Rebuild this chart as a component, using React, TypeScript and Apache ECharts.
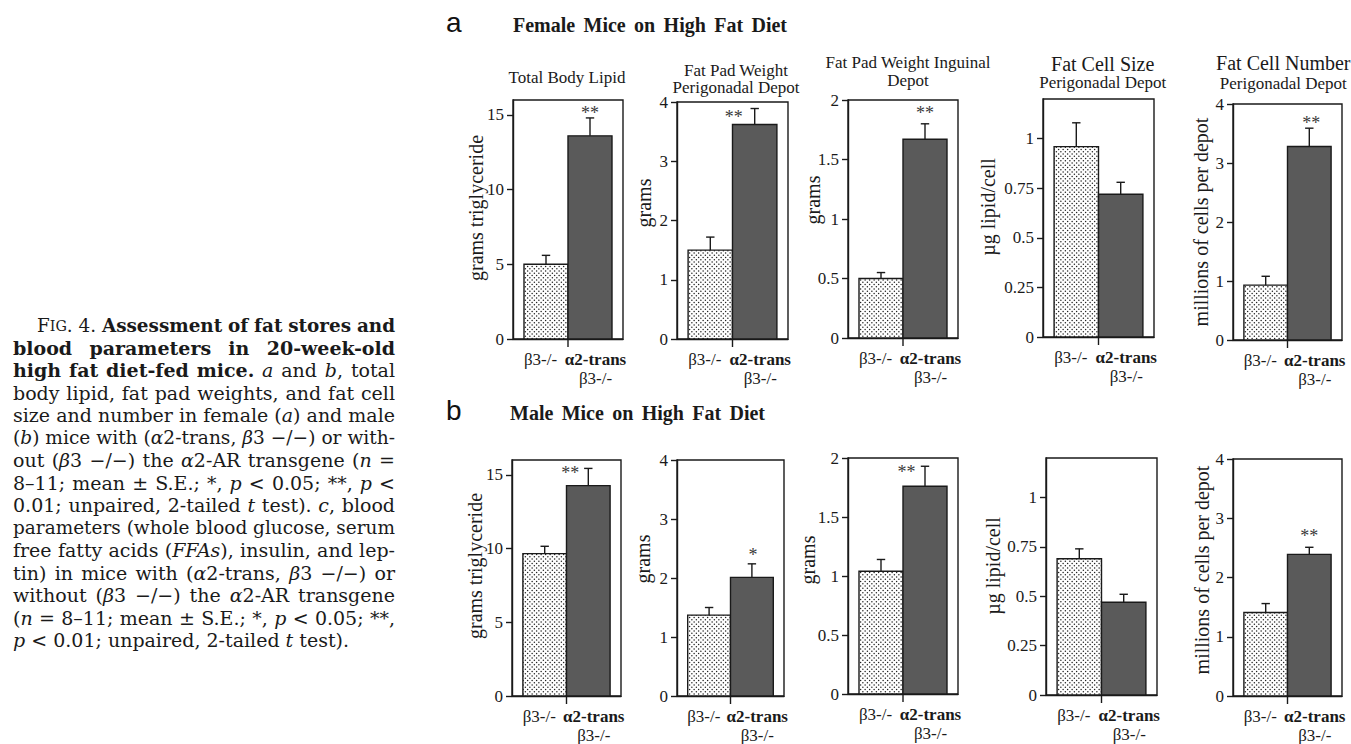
import React, { useEffect, useRef } from 'react';
import * as echarts from 'echarts';

// ---------------- DATA ----------------
const categories = ['β3-/-', 'α2-trans\nβ3-/-'];

// a: Female mice on high fat diet
const femaleTotalLipid = [5.0, 13.6];
const femaleTotalLipidSE = [0.6, 1.2];
const femalePerigonadal = [1.5, 3.62];
const femalePerigonadalSE = [0.22, 0.27];
const femaleInguinal = [0.5, 1.67];
const femaleInguinalSE = [0.05, 0.13];
const femaleCellSize = [0.96, 0.72];
const femaleCellSizeSE = [0.12, 0.06];
const femaleCellNumber = [0.93, 3.28];
const femaleCellNumberSE = [0.15, 0.31];

// b: Male mice on high fat diet
const maleTotalLipid = [9.65, 14.26];
const maleTotalLipidSE = [0.5, 1.17];
const malePerigonadal = [1.37, 2.01];
const malePerigonadalSE = [0.13, 0.23];
const maleInguinal = [1.04, 1.76];
const maleInguinalSE = [0.1, 0.17];
const maleCellSize = [0.69, 0.47];
const maleCellSizeSE = [0.05, 0.04];
const maleCellNumber = [1.41, 2.39];
const maleCellNumberSE = [0.15, 0.12];

const femaleSig = ['**', '**', '**', '', '**'];
const maleSig = ['**', '*', '**', '', '**'];

const lipidTicks = [0, 5, 10, 15];
const gramTicks4 = [0, 1, 2, 3, 4];
const gramTicks2 = [0, 0.5, 1, 1.5, 2];
const cellSizeTicks = [0, 0.25, 0.5, 0.75, 1];
const cellNumberTicks = [0, 1, 2, 3, 4];

const axisMax = [16, 4, 2, 1.2, 4];
const axisInterval = [5, 1, 0.5, 0.25, 1];
const yNames = ['grams triglyceride', 'grams', 'grams', 'µg lipid/cell', 'millions of cells per depot'];

const femaleHeading = 'Female Mice on High Fat Diet';
const maleHeading = 'Male Mice on High Fat Diet';
const chartTitles = [
  ['Total Body Lipid'],
  ['Fat Pad Weight', 'Perigonadal Depot'],
  ['Fat Pad Weight Inguinal', 'Depot'],
  ['Fat Cell Size', 'Perigonadal Depot'],
  ['Fat Cell Number', 'Perigonadal Depot'],
];

const captionLines: Array<Array<[string, string]>> = [
  [['r', 'F'], ['s', 'IG'], ['r', '. 4. '], ['b', 'Assessment of fat stores and']],
  [['b', 'blood parameters in 20-week-old']],
  [['b', 'high fat diet-fed mice.'], ['r', ' '], ['i', 'a'], ['r', ' and '], ['i', 'b'], ['r', ', total']],
  [['r', 'body lipid, fat pad weights, and fat cell']],
  [['r', 'size and number in female ('], ['i', 'a'], ['r', ') and male']],
  [['r', '('], ['i', 'b'], ['r', ') mice with ('], ['i', 'α'], ['r', '2-trans, '], ['i', 'β'], ['r', '3 −/−) or with-']],
  [['r', 'out ('], ['i', 'β'], ['r', '3 −/−) the '], ['i', 'α'], ['r', '2-AR transgene ('], ['i', 'n'], ['r', ' =']],
  [['r', '8–11; mean ± S.E.; *, '], ['i', 'p'], ['r', ' < 0.05; **, '], ['i', 'p'], ['r', ' <']],
  [['r', '0.01; unpaired, 2-tailed '], ['i', 't'], ['r', ' test). '], ['i', 'c'], ['r', ', blood']],
  [['r', 'parameters (whole blood glucose, serum']],
  [['r', 'free fatty acids ('], ['i', 'FFAs'], ['r', '), insulin, and lep-']],
  [['r', 'tin) in mice with ('], ['i', 'α'], ['r', '2-trans, '], ['i', 'β'], ['r', '3 −/−) or']],
  [['r', 'without ('], ['i', 'β'], ['r', '3 −/−) the '], ['i', 'α'], ['r', '2-AR transgene']],
  [['r', '('], ['i', 'n'], ['r', ' = 8–11; mean ± S.E.; *, '], ['i', 'p'], ['r', ' < 0.05; **,']],
  [['i', 'p'], ['r', ' < 0.01; unpaired, 2-tailed '], ['i', 't'], ['r', ' test).']],
];

// ---------------- LAYOUT (pixels) ----------------
const GRID = [
  { l: 513, t: 100, w: 110, h: 239, yx: 475.5, yy: 208, sdx: 0, sdy: -8 },
  { l: 677, t: 102, w: 111, h: 237, yx: 644, yy: 203, sdx: -21, sdy: 5 },
  { l: 848, t: 100, w: 110, h: 238, yx: 813, yy: 200, sdx: 0, sdy: -14 },
  { l: 1043, t: 99, w: 111, h: 238, yx: 988, yy: 207, sdx: 0, sdy: 0 },
  { l: 1233, t: 104, w: 109, h: 236, yx: 1201, yy: 222, sdx: 2, sdy: -8 },
  { l: 512, t: 460, w: 109, h: 236, yx: 475, yy: 566, sdx: -18, sdy: 2 },
  { l: 677, t: 460, w: 107, h: 236, yx: 643, yy: 559, sdx: 1, sdy: -12 },
  { l: 848, t: 458, w: 110, h: 236, yx: 807.5, yy: 560, sdx: -18.5, sdy: 3 },
  { l: 1046, t: 458, w: 111, h: 237, yx: 993, yy: 566, sdx: 0, sdy: 0 },
  { l: 1233, t: 459, w: 109, h: 237, yx: 1202, yy: 570, sdx: 0, sdy: -14 },
];
const TITLE_POS = [
  { x: 567, lines: [[77, 17]] },
  { x: 736, lines: [[70.3, 17], [87, 17]] },
  { x: 908, lines: [[62.6, 17], [80.3, 17]] },
  { x: 1102.7, lines: [[64, 20], [82.6, 17]] },
  { x: 1283.3, lines: [[63.3, 20], [83.6, 17]] },
];

const INK = '#1a1a1a';
const SERIF = 'Liberation Serif';
const CAP_FONT = 'DejaVu Serif';

function makeDotPattern(): HTMLCanvasElement {
  const c = document.createElement('canvas');
  c.width = 9;
  c.height = 9;
  const g = c.getContext('2d')!;
  g.fillStyle = '#ffffff';
  g.fillRect(0, 0, 9, 9);
  g.fillStyle = '#222222';
  const pts = [
    [1.1, 1.1], [5.6, 1.1], [3.35, 3.35], [7.85, 3.35],
    [1.1, 5.6], [5.6, 5.6], [3.35, 7.85], [7.85, 7.85],
  ];
  pts.forEach(([x, y]) => {
    g.beginPath();
    g.arc(x, y, 0.75, 0, Math.PI * 2);
    g.fill();
  });
  return c;
}

type Run = [string, string];

function fontOf(st: string, fs: number, family: string) {
  const size = st === 's' ? fs * 0.78 : fs;
  const weight = st === 'b' ? 'bold' : 'normal';
  const style = st === 'i' ? 'italic' : 'normal';
  return { size, weight, style, css: `${style} ${weight} ${size}px ${family}` };
}

function layoutLine(
  ctx: CanvasRenderingContext2D,
  runs: Run[],
  x0: number,
  width: number,
  y: number,
  fs: number,
  family: string,
  justify: boolean,
  fill: string,
) {
  const words: { st: string; tx: string }[][] = [[]];
  runs.forEach(([st, tx]) => {
    tx.split(' ').forEach((p, j) => {
      if (j > 0) words.push([]);
      if (p) words[words.length - 1].push({ st, tx: p });
    });
  });
  const ws = words.filter((w) => w.length > 0);
  const measure = (st: string, tx: string) => {
    ctx.font = fontOf(st, fs, family).css;
    return ctx.measureText(tx).width;
  };
  const spaceW = measure('r', ' ');
  const wordW = ws.map((w) => w.reduce((s, p) => s + measure(p.st, p.tx), 0));
  const sumW = wordW.reduce((a, b) => a + b, 0);
  const n = ws.length;
  const natural = sumW + spaceW * (n - 1);
  let scale = 1;
  let gap = spaceW;
  if (natural > width) {
    scale = width / natural;
  } else if (justify && n > 1) {
    gap = (width - sumW) / (n - 1);
  }
  const els: any[] = [];
  let x = x0;
  ws.forEach((w, wi) => {
    w.forEach((p) => {
      const f = fontOf(p.st, fs, family);
      els.push({
        type: 'text',
        x,
        y,
        scaleX: scale,
        silent: true,
        style: {
          text: p.tx,
          fontSize: f.size,
          fontFamily: family,
          fontWeight: f.weight,
          fontStyle: f.style,
          fill,
          textAlign: 'left',
          align: 'left',
          textVerticalAlign: 'middle',
          verticalAlign: 'middle',
        },
      });
      x += measure(p.st, p.tx) * scale;
    });
    if (wi < n - 1) x += gap * scale;
  });
  return els;
}

function buildOption() {
  const pattern = makeDotPattern();
  const dotFill: any = { image: pattern, repeat: 'repeat', imageWidth: 9, imageHeight: 9 };

  const panels = [
    { v: femaleTotalLipid, e: femaleTotalLipidSE, sig: femaleSig[0], ticks: lipidTicks, k: 0 },
    { v: femalePerigonadal, e: femalePerigonadalSE, sig: femaleSig[1], ticks: gramTicks4, k: 1 },
    { v: femaleInguinal, e: femaleInguinalSE, sig: femaleSig[2], ticks: gramTicks2, k: 2 },
    { v: femaleCellSize, e: femaleCellSizeSE, sig: femaleSig[3], ticks: cellSizeTicks, k: 3 },
    { v: femaleCellNumber, e: femaleCellNumberSE, sig: femaleSig[4], ticks: cellNumberTicks, k: 4 },
    { v: maleTotalLipid, e: maleTotalLipidSE, sig: maleSig[0], ticks: lipidTicks, k: 0 },
    { v: malePerigonadal, e: malePerigonadalSE, sig: maleSig[1], ticks: gramTicks4, k: 1 },
    { v: maleInguinal, e: maleInguinalSE, sig: maleSig[2], ticks: gramTicks2, k: 2 },
    { v: maleCellSize, e: maleCellSizeSE, sig: maleSig[3], ticks: cellSizeTicks, k: 3 },
    { v: maleCellNumber, e: maleCellNumberSE, sig: maleSig[4], ticks: cellNumberTicks, k: 4 },
  ];

  const lineStyle = { color: INK, width: 1.4 };

  const grid = GRID.map((g) => ({
    left: g.l, top: g.t, width: g.w, height: g.h,
    show: true, borderColor: INK, borderWidth: 1.4, backgroundColor: 'transparent',
  }));

  const xAxis = GRID.map((_, i) => ({
    type: 'category',
    gridIndex: i,
    data: categories,
    axisLine: { show: true, lineStyle },
    axisTick: { show: false },
    splitLine: { show: false },
    axisLabel: {
      interval: 0,
      margin: 11,
      formatter: (v: string) => {
        const [l1, l2] = v.split('\n');
        return l2 ? `{b|${l1}}\n{n|${l2}}` : `{n|${l1}}`;
      },
      rich: {
        n: { fontSize: 17, fontFamily: SERIF, color: INK, lineHeight: 19 },
        b: { fontSize: 17, fontFamily: SERIF, color: INK, lineHeight: 19, fontWeight: 'bold' },
      },
    },
  }));

  const yAxis = panels.map((p, i) => ({
    type: 'value',
    gridIndex: i,
    min: 0,
    max: axisMax[p.k],
    interval: axisInterval[p.k],
    axisLine: { show: true, lineStyle },
    axisTick: { show: true, length: 6, lineStyle, customValues: p.ticks },
    splitLine: { show: false },
    axisLabel: {
      fontSize: 17,
      fontFamily: SERIF,
      color: INK,
      margin: 9,
      customValues: p.ticks,
      formatter: (val: number) => (p.ticks.some((t) => Math.abs(t - val) < 1e-9) ? String(val) : ''),
    },
  }));

  const series = panels.map((p, i) => {
    const g = GRID[i];
    return {
      type: 'custom',
      xAxisIndex: i,
      yAxisIndex: i,
      clip: false,
      encode: { x: 0, y: 1 },
      data: p.v.map((val, j) => [j, val, p.e[j]]),
      renderItem: (params: any, api: any) => {
        const idx = api.value(0);
        const val = api.value(1);
        const err = api.value(2);
        const base = api.coord([idx, 0]);
        const top = api.coord([idx, val]);
        const et = api.coord([idx, val + err]);
        const bw = api.size([1, 0])[0];
        const barW = bw * 0.8;
        const boundary = idx === 0 ? base[0] + bw / 2 : base[0] - bw / 2;
        const x0 = idx === 0 ? boundary - barW : boundary;
        const cx = x0 + barW / 2;
        const children: any[] = [
          {
            type: 'rect',
            shape: { x: x0, y: top[1], width: barW, height: base[1] - top[1] },
            style: { fill: idx === 0 ? dotFill : '#5a5a5a', stroke: INK, lineWidth: 1.4 },
          },
          {
            type: 'line',
            shape: { x1: cx, y1: top[1], x2: cx, y2: et[1] },
            style: { stroke: INK, lineWidth: 1.4 },
          },
          {
            type: 'line',
            shape: { x1: cx - 4.2, y1: et[1], x2: cx + 4.2, y2: et[1] },
            style: { stroke: INK, lineWidth: 1.4 },
          },
        ];
        if (idx === 1) {
          children.push({
            type: 'line',
            shape: { x1: boundary, y1: base[1], x2: boundary, y2: base[1] + 8 },
            style: { stroke: INK, lineWidth: 1.4 },
          });
          if (p.sig) {
            children.push({
              type: 'text',
              x: cx + g.sdx,
              y: et[1] + g.sdy + 3,
              style: {
                text: p.sig,
                fontSize: 18,
                fontFamily: SERIF,
                fill: '#3a3a3a',
                textAlign: 'center',
                align: 'center',
                textVerticalAlign: 'middle',
                verticalAlign: 'middle',
              },
            });
          }
        }
        return { type: 'group', children };
      },
    };
  });

  // ---------- graphic texts ----------
  const canvas = document.createElement('canvas');
  const ctx = canvas.getContext('2d')!;
  const graphics: any[] = [];

  // caption
  ctx.font = `normal normal 20px ${CAP_FONT}`;
  const w4 = ctx.measureText('body lipid, fat pad weights, and fat cell').width;
  const capLeft = 13;
  const capRight = 395;
  let capFs = (20 * (capRight - capLeft) * 0.985) / w4;
  capFs = Math.max(15, Math.min(21, capFs));
  captionLines.forEach((runs, k) => {
    const baseline = 331.7 + 22.5 * k;
    const y = baseline - 0.346 * capFs;
    const indent = k === 0 ? 24 : 0;
    const last = k === captionLines.length - 1;
    graphics.push(
      ...layoutLine(ctx, runs, capLeft + indent, capRight - capLeft - indent, y, capFs, CAP_FONT, !last, INK),
    );
  });

  // panel letters
  const letter = (t: string, x: number, y: number) => ({
    type: 'text', x, y, silent: true,
    style: {
      text: t, fontSize: 28, fontFamily: 'Liberation Sans', fill: '#111',
      textAlign: 'left', align: 'left', textVerticalAlign: 'middle', verticalAlign: 'middle',
    },
  });
  graphics.push(letter('a', 446, 22));
  graphics.push(letter('b', 446, 410));

  // row headings
  graphics.push(...layoutLine(ctx, [['b', femaleHeading]], 513, 274, 31.5 - 0.3375 * 20, 20, SERIF, true, INK));
  graphics.push(...layoutLine(ctx, [['b', maleHeading]], 510, 255, 420 - 0.3375 * 20, 20, SERIF, true, INK));

  // chart titles (female row)
  chartTitles.forEach((lines, i) => {
    const pos = TITLE_POS[i];
    lines.forEach((t, j) => {
      const [y, fs] = pos.lines[j];
      graphics.push({
        type: 'text', x: pos.x, y, silent: true,
        style: {
          text: t, fontSize: fs, fontFamily: SERIF, fill: INK,
          textAlign: 'center', align: 'center', textVerticalAlign: 'middle', verticalAlign: 'middle',
        },
      });
    });
  });

  // y axis names
  panels.forEach((p, i) => {
    const g = GRID[i];
    graphics.push({
      type: 'text', x: g.yx, y: g.yy, rotation: Math.PI / 2, silent: true,
      style: {
        text: yNames[p.k], fontSize: 20, fontFamily: SERIF, fill: INK,
        textAlign: 'center', align: 'center', textVerticalAlign: 'middle', verticalAlign: 'middle',
      },
    });
  });

  return {
    animation: false,
    backgroundColor: '#ffffff',
    grid,
    xAxis,
    yAxis,
    series,
    graphic: { elements: graphics },
  };
}

export default function App() {
  const ref = useRef<HTMLDivElement>(null);
  useEffect(() => {
    const el = ref.current;
    if (!el) return;
    const chart = echarts.init(el, null, { renderer: 'svg' });
    chart.setOption(buildOption() as any);
    return () => {
      chart.dispose();
    };
  }, []);
  return (
    <div
      ref={ref}
      style={{ position: 'fixed', left: 0, top: 0, width: 1351, height: 744, background: '#fff' }}
    />
  );
}
